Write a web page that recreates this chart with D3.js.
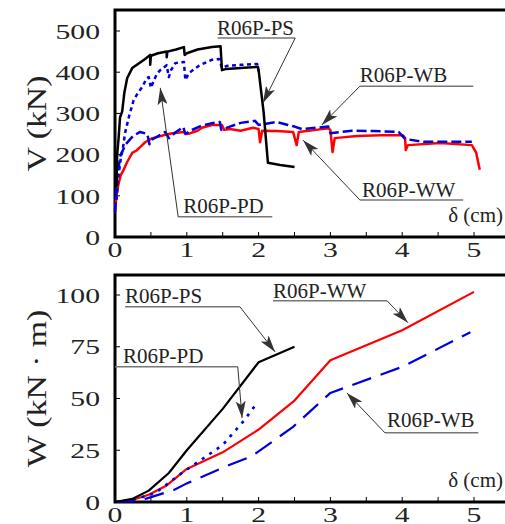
<!DOCTYPE html>
<html>
<head>
<meta charset="utf-8">
<script src="https://cdn.jsdelivr.net/npm/d3@7"></script>
<style>
  body { margin: 0; background: #fff; }
  text { font-family: "Liberation Serif", "DejaVu Serif", serif; fill: #222; }
</style>
</head>
<body>
<div id="chart"></div>
<script>
// tick labels
const xTicks = [0, 1, 2, 3, 4, 5];
const vTicks = [0, 100, 200, 300, 400, 500];
const wTicks = [0, 25, 50, 75, 100];

// top panel: shear force V (kN) vs drift δ (cm)
const vPS = [[0.02,120],[0.03,200],[0.05,240],[0.07,290],[0.1,305],[0.13,350],[0.17,386],[0.24,410],[0.32,420],[0.42,432],[0.49,442],[0.49,418],[0.5,440],[0.6,446],[0.72,450],[0.72,436],[0.73,450],[0.85,455],[0.96,461],[0.97,442],[1.0,446],[1.15,455],[1.35,461],[1.47,463],[1.49,405],[1.55,408],[1.75,410],[1.99,413],[2.0,405],[2.07,303],[2.13,180],[2.3,175],[2.5,170]];
const vPD = [[0.02,90],[0.05,150],[0.08,190],[0.11,215],[0.14,252],[0.2,296],[0.26,332],[0.32,350],[0.38,364],[0.44,385],[0.47,388],[0.5,362],[0.53,375],[0.58,395],[0.63,405],[0.72,417],[0.75,388],[0.78,405],[0.84,422],[0.96,425],[0.98,381],[1.03,398],[1.18,417],[1.35,430],[1.45,432],[1.49,410],[1.55,415],[1.75,418],[1.98,420],[2.0,402]];
const vWB = [[0,60],[0.03,150],[0.08,200],[0.15,225],[0.25,245],[0.35,255],[0.45,250],[0.48,225],[0.5,235],[0.6,245],[0.7,255],[0.75,240],[0.85,255],[0.95,267],[0.98,250],[1.05,258],[1.2,270],[1.35,276],[1.46,279],[1.48,260],[1.6,268],[1.75,277],[1.95,282],[2.0,272],[2.25,279],[2.41,272],[2.5,268],[2.6,262],[2.8,265],[2.97,268],[3.0,252],[3.3,258],[3.6,257],[3.95,255],[4.04,238],[4.3,231],[4.97,231]];
const vWW = [[0.0,60],[0.02,100],[0.05,130],[0.08,150],[0.12,163],[0.17,182],[0.24,204],[0.3,210],[0.35,218],[0.42,230],[0.52,240],[0.6,243],[0.7,248],[0.8,252],[0.95,255],[1.0,250],[1.05,252],[1.15,258],[1.21,265],[1.35,272],[1.49,272],[1.52,260],[1.6,262],[1.75,258],[1.92,265],[2.0,262],[2.02,230],[2.05,258],[2.25,257],[2.48,255],[2.53,223],[2.56,255],[2.8,260],[2.97,264],[3.0,260],[3.03,206],[3.06,240],[3.37,245],[3.7,247],[4.01,247],[4.04,240],[4.05,211],[4.08,223],[4.53,228],[4.97,223],[5.03,205],[5.08,163]];

// bottom panel: cumulative energy W (kN·m) vs δ (cm)
const wPS = [[0,0],[0.24,1.5],[0.47,5.5],[0.75,14],[1.0,25],[1.5,45],[2.0,67.5],[2.5,75]];
const wPD = [[0,0],[0.3,1.5],[0.56,4.3],[0.93,14],[1.5,27.5],[1.8,39.5],[1.95,46.5]];
const wWW = [[0,0],[0.24,1],[0.47,3.5],[0.72,8],[1.0,16],[1.5,24],[2.0,35],[2.5,49],[3.0,68.5],[4.0,83],[5.0,101.5]];
const wWB = [[0,0],[0.33,0.5],[0.82,5.8],[1.0,9],[1.6,18],[1.9,22],[2.48,36.3],[3.0,52.7],[4.0,65.3],[4.95,82]];

// callouts: [label, text x, text y, underline x0, underline x1, underline y, tip x, tip y, leader from right end?]
const topNotes = [
  ["R06P-PS", 1.42, 490, 1.43, 2.51, 483, 2.06, 325, true],
  ["R06P-WB", 3.41, 376, 3.41, 4.99, 366, 2.88, 272, false],
  ["R06P-WW", 3.44, 97, 3.41, 4.85, 90, 2.62, 235, false],
  ["R06P-PD", 0.95, 58, 0.88, 2.19, 49, 0.63, 362, false]
];
const botNotes = [
  ["R06P-PS", 0.14, 96, 0.14, 1.74, 94.3, 2.23, 72.5, true],
  ["R06P-PD", 0.11, 67, 0.0, 1.71, 65.3, 1.77, 40.6, true],
  ["R06P-WW", 2.2, 98.6, 2.2, 3.79, 97.2, 4.08, 86.6, true],
  ["R06P-WB", 3.79, 36.3, 3.76, 5.06, 33.4, 3.23, 52.7, false]
];

const W = 505, H = 524;
const svg = d3.select("#chart").append("svg")
  .attr("width", W).attr("height", H);

svg.append("defs").append("marker")
  .attr("id", "arr")
  .attr("markerUnits", "userSpaceOnUse")
  .attr("markerWidth", 18).attr("markerHeight", 10)
  .attr("refX", 17).attr("refY", 5)
  .attr("orient", "auto")
  .append("path")
  .attr("d", "M0,0 L17,5 L0,10 L4,5 Z")
  .attr("fill", "#333");

const x = d3.scaleLinear().domain([0, 5]).range([115, 474]);
const yV = d3.scaleLinear().domain([0, 500]).range([237, 31]);
const yW = d3.scaleLinear().domain([0, 100]).range([502, 295]);

const stretch = 1.35;

function panel(y, yTicks, top, bottom, title, minor) {
  const g = svg.append("g");
  // frame: top, left, bottom (open on the right)
  g.append("path")
    .attr("d", `M${W},${top} H115 V${bottom} H${W}`)
    .attr("fill", "none").attr("stroke", "#000").attr("stroke-width", 3);

  // inward ticks
  g.selectAll(".yt").data(yTicks.filter(d => d > 0)).enter().append("line")
    .attr("x1", 115).attr("x2", 120)
    .attr("y1", d => y(d)).attr("y2", d => y(d))
    .attr("stroke", "#000").attr("stroke-width", 1);
  g.selectAll(".xt").data(minor.filter(d => d > 0)).enter().append("line")
    .attr("x1", d => x(d)).attr("x2", d => x(d))
    .attr("y1", bottom).attr("y2", bottom - 5)
    .attr("stroke", "#000").attr("stroke-width", 1);

  g.selectAll(".yl").data(yTicks).enter().append("text")
    .attr("transform", d => `translate(100,${y(d)}) scale(${stretch},1)`)
    .attr("dy", "0.35em")
    .attr("text-anchor", "end")
    .style("font-size", "22px")
    .text(d => d);
  g.selectAll(".xl").data(xTicks).enter().append("text")
    .attr("transform", d => `translate(${x(d)},${bottom + 20}) scale(${stretch},1)`)
    .attr("text-anchor", "middle")
    .style("font-size", "22px")
    .text(d => d);

  g.append("text")
    .attr("transform", `translate(46,${(top + bottom) / 2}) rotate(-90) scale(1.25,1)`)
    .attr("text-anchor", "middle")
    .style("font-size", "27px")
    .text(title);

  g.append("text")
    .attr("x", 503).attr("y", bottom - 15)
    .attr("text-anchor", "end")
    .style("font-size", "21px")
    .text("δ (cm)");
  return g;
}

const minorTicks = d3.range(0, 5.01, 0.5);
panel(yV, vTicks, 10, 237, "V (kN)", minorTicks);
panel(yW, wTicks, 275, 502, "W (kN · m)", minorTicks);

function curve(data, y, color, dash, width) {
  const line = d3.line().x(d => x(d[0])).y(d => y(d[1]));
  svg.append("path")
    .datum(data)
    .attr("d", line)
    .attr("fill", "none")
    .attr("stroke", color)
    .attr("stroke-width", width)
    .attr("stroke-linejoin", "round")
    .attr("stroke-dasharray", dash);
}

curve(vWW, yV, "#ff0000", null, 2.5);
curve(vWB, yV, "#0000dd", "10,4", 2.5);
curve(vPD, yV, "#0000dd", "4,3.5", 2.5);
curve(vPS, yV, "#000", null, 2.5);

curve(wWW, yW, "#ff0000", null, 2.2);
curve(wWB, yW, "#0000dd", "20,10", 2.2);
curve(wPD, yW, "#0000dd", "3,6", 2.6);
curve(wPS, yW, "#000", null, 2.2);

function notes(list, y) {
  list.forEach(n => {
    const [label, tx, ty, ux0, ux1, uy, px, py, fromRight] = n;
    svg.append("text")
      .attr("x", x(tx)).attr("y", y(ty))
      .style("font-size", "21px")
      .text(label);
    svg.append("line")
      .attr("x1", x(ux0)).attr("x2", x(ux1))
      .attr("y1", y(uy)).attr("y2", y(uy))
      .attr("stroke", "#777").attr("stroke-width", 1.5);
    const sx = fromRight ? x(ux1) : x(ux0);
    svg.append("line")
      .attr("x1", sx).attr("y1", y(uy))
      .attr("x2", x(px)).attr("y2", y(py))
      .attr("stroke", "#333").attr("stroke-width", 1)
      .attr("marker-end", "url(#arr)");
  });
}
notes(topNotes, yV);
notes(botNotes, yW);
</script>
</body>
</html>
